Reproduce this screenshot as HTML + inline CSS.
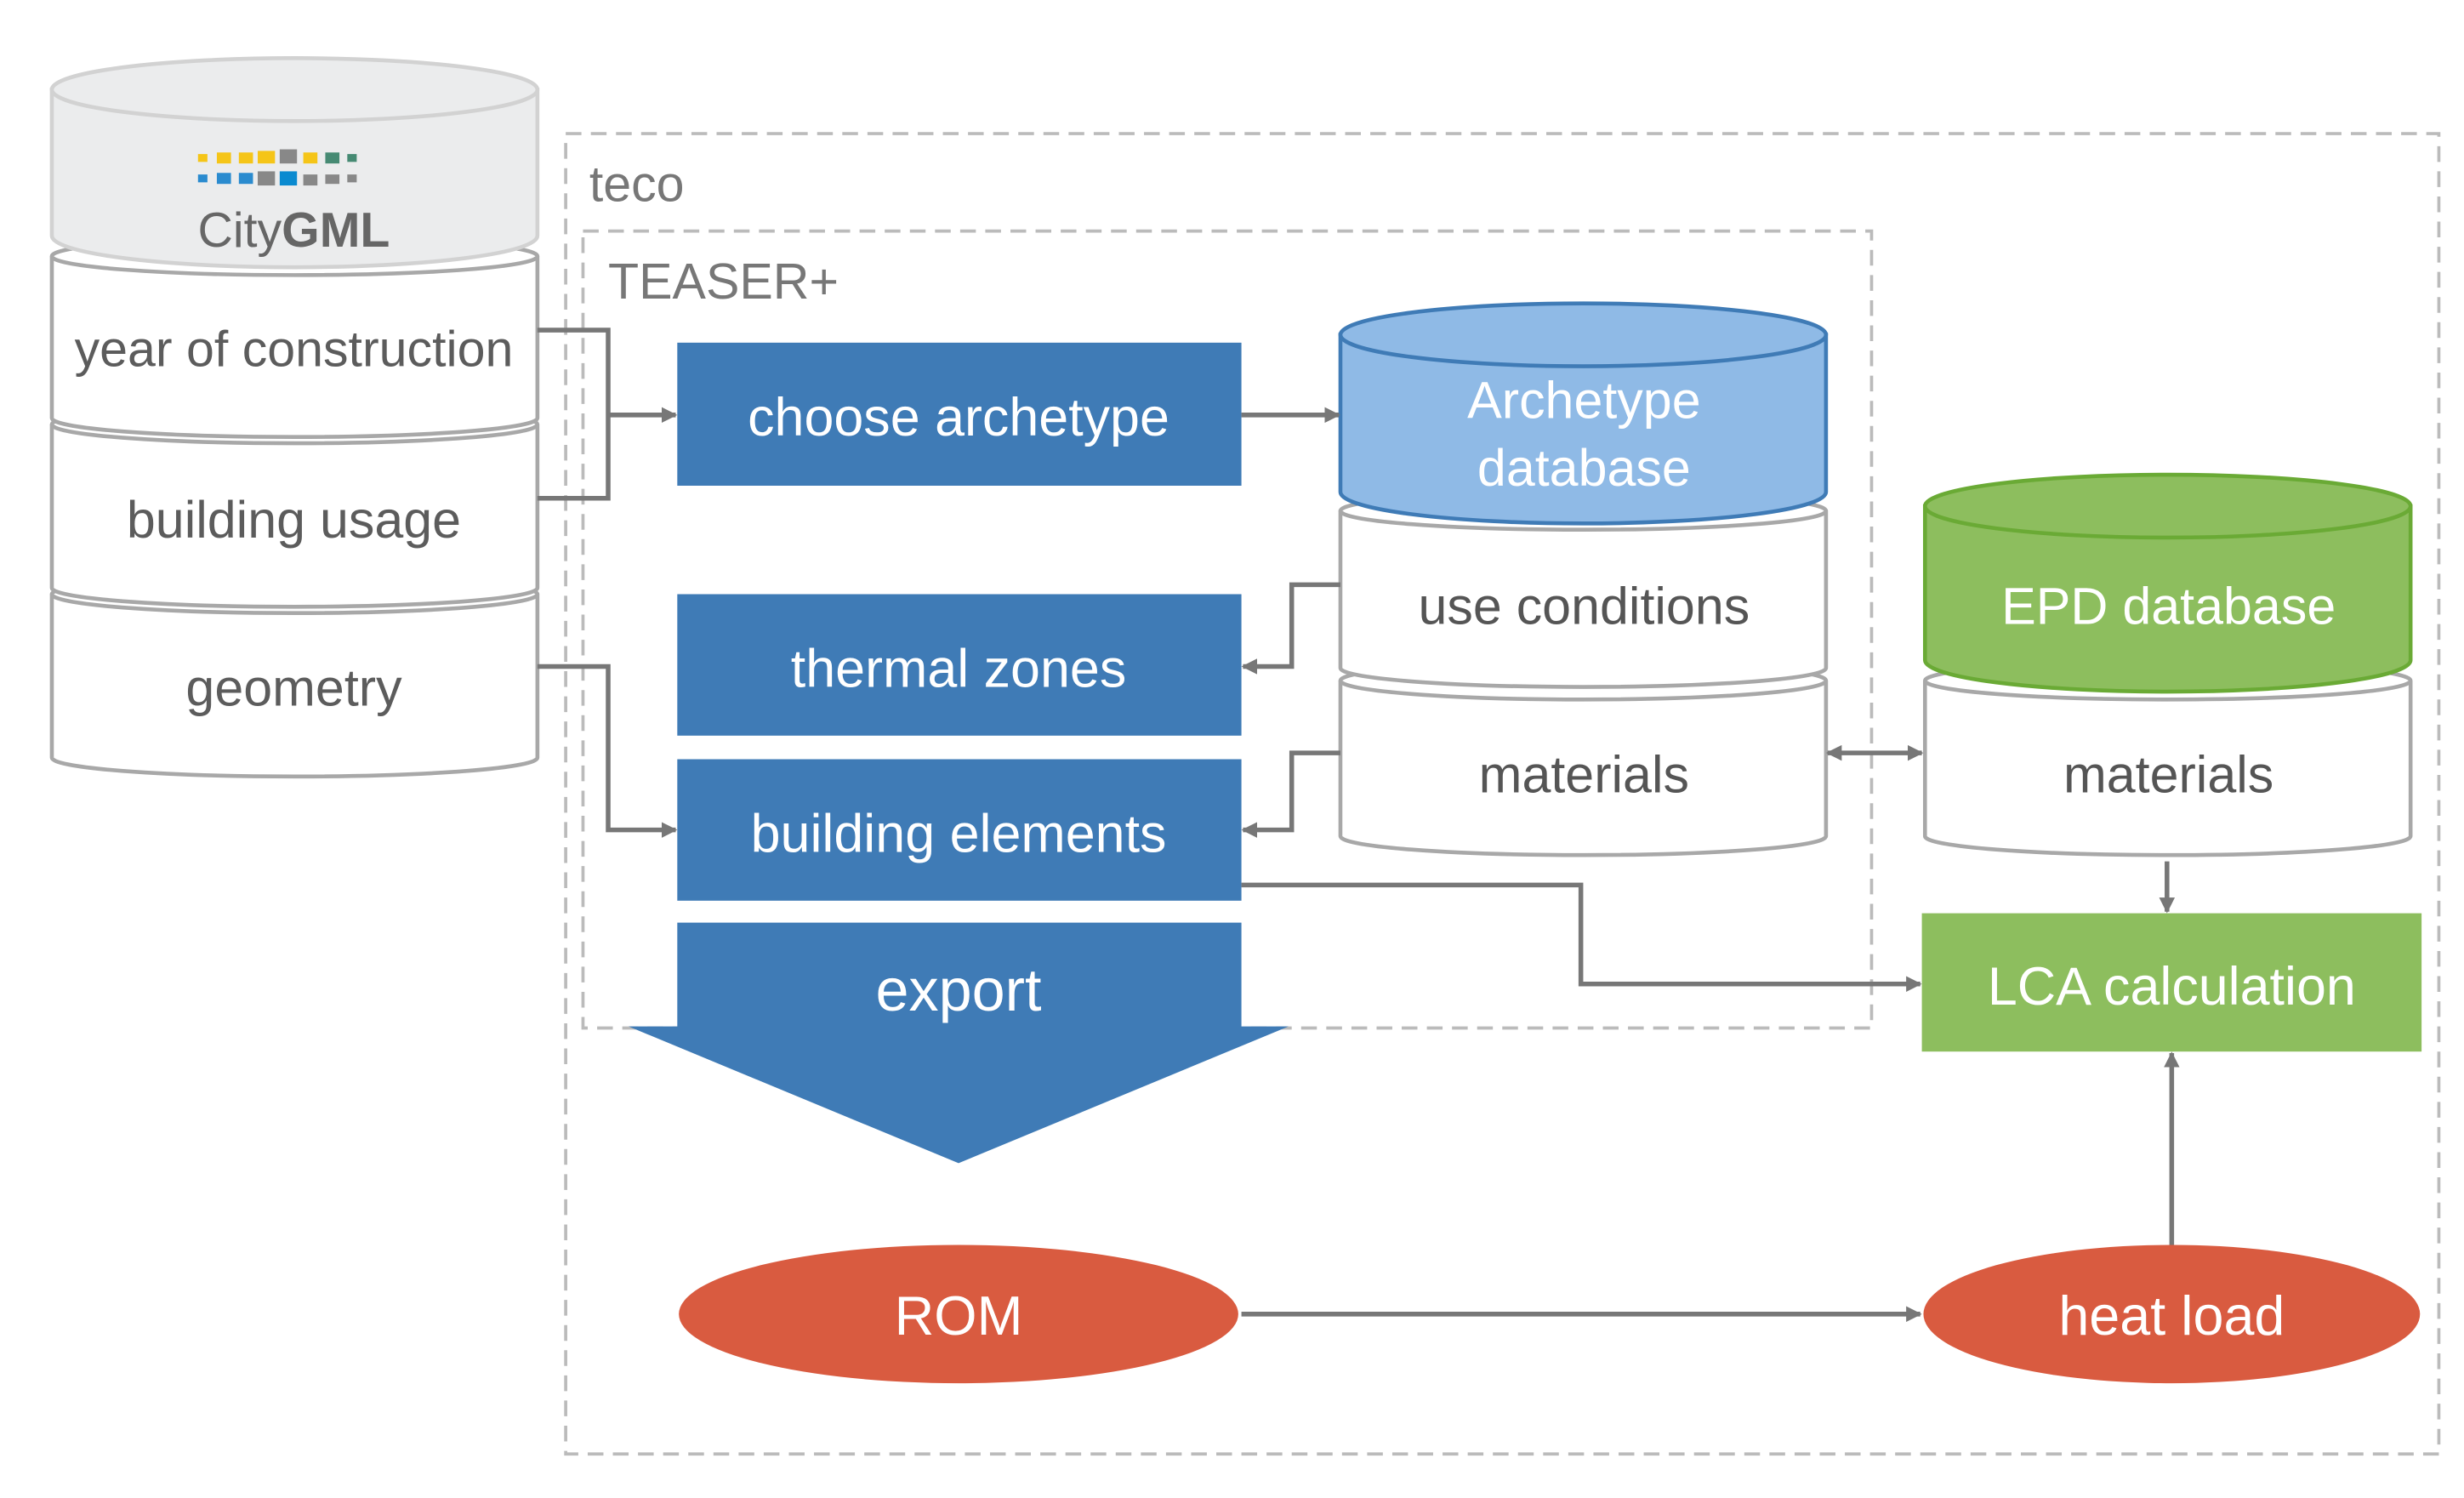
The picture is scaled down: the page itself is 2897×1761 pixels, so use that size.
<!DOCTYPE html>
<html><head><meta charset="utf-8"><style>
html,body{margin:0;padding:0;background:#fff;}
svg{display:block;}
text{font-family:"Liberation Sans",sans-serif;}
</style></head><body>
<svg width="2897" height="1761" viewBox="0 0 1568 953" preserveAspectRatio="none" xmlns="http://www.w3.org/2000/svg">
<defs>
<marker id="ah" markerWidth="10" markerHeight="10" refX="9" refY="5" orient="auto" markerUnits="userSpaceOnUse"><path d="M0,0 L10,5 L0,10 z" fill="#777"/></marker>
<marker id="ahs" markerWidth="10" markerHeight="10" refX="1" refY="5" orient="auto" markerUnits="userSpaceOnUse"><path d="M10,0 L0,5 L10,10 z" fill="#777"/></marker>
</defs>
<rect width="1568" height="953" fill="#fff"/>
<rect x="360" y="85" width="1192" height="840" fill="none" stroke="#bbb" stroke-width="2" stroke-dasharray="10,6"/>
<text x="375" y="128" font-size="32" fill="#777">teco</text>
<rect x="371" y="147" width="820" height="507" fill="none" stroke="#bbb" stroke-width="2" stroke-dasharray="10,6"/>
<text x="387" y="190" font-size="32" fill="#777">TEASER+</text>

<g stroke="#a8a8a8" stroke-width="2.5">
<path d="M33,378 A154.5,12 0 0 1 342,378 L342,482 A154.5,12 0 0 1 33,482 Z" fill="#fff"/>
<path d="M33,378 A154.5,12 0 0 0 342,378" fill="none"/>
<path d="M33,270 A154.5,12 0 0 1 342,270 L342,374 A154.5,12 0 0 1 33,374 Z" fill="#fff"/>
<path d="M33,270 A154.5,12 0 0 0 342,270" fill="none"/>
<path d="M33,163 A154.5,12 0 0 1 342,163 L342,266 A154.5,12 0 0 1 33,266 Z" fill="#fff"/>
<path d="M33,163 A154.5,12 0 0 0 342,163" fill="none"/>
</g>
<path d="M33,57 L33,150 A154.5,20 0 0 0 342,150 L342,57 Z" fill="#ebeced" stroke="#d2d2d2" stroke-width="2.5"/>
<ellipse cx="187.5" cy="57" rx="154.5" ry="20" fill="#ebeced" stroke="#d2d2d2" stroke-width="2.5"/>
<g>
<rect x="126" y="98" width="6" height="5" fill="#f5c518"/><rect x="138" y="97" width="9" height="7" fill="#f5c518"/><rect x="152" y="97" width="9" height="7" fill="#f5c518"/><rect x="164" y="96" width="11" height="8" fill="#f5c518"/><rect x="178" y="95" width="11" height="9" fill="#888"/><rect x="193" y="97" width="9" height="7" fill="#f5c518"/><rect x="207" y="97" width="9" height="7" fill="#468a73"/><rect x="221" y="98" width="6" height="5" fill="#468a73"/>
<rect x="126" y="111" width="6" height="5" fill="#2a8bcf"/><rect x="138" y="110" width="9" height="7" fill="#2a8bcf"/><rect x="152" y="110" width="9" height="7" fill="#2a8bcf"/><rect x="164" y="109" width="11" height="9" fill="#888"/><rect x="178" y="109" width="11" height="9" fill="#0a8ad0"/><rect x="193" y="111" width="9" height="7" fill="#888"/><rect x="207" y="111" width="9" height="6" fill="#888"/><rect x="221" y="111" width="6" height="5" fill="#888"/>
</g>
<text x="187" y="157" font-size="31" fill="#666" text-anchor="middle">City<tspan font-weight="bold">GML</tspan></text>
<g font-size="32" fill="#5c5c5c" text-anchor="middle">
<text x="187" y="233">year of construction</text>
<text x="187" y="342" font-size="33">building usage</text>
<text x="187" y="449" font-size="33">geometry</text>
</g>

<g stroke="#a8a8a8" stroke-width="2.5">
<path d="M853,433 A154.5,12 0 0 1 1162,433 L1162,532 A154.5,12 0 0 1 853,532 Z" fill="#fff"/>
<path d="M853,433 A154.5,12 0 0 0 1162,433" fill="none"/>
<path d="M853,325 A154.5,12 0 0 1 1162,325 L1162,425 A154.5,12 0 0 1 853,425 Z" fill="#fff"/>
<path d="M853,325 A154.5,12 0 0 0 1162,325" fill="none"/>
</g>
<path d="M853,213 L853,313 A154.5,20 0 0 0 1162,313 L1162,213 Z" fill="#8fbae6" stroke="#3f7bb6" stroke-width="2.5"/>
<ellipse cx="1007.5" cy="213" rx="154.5" ry="20" fill="#8fbae6" stroke="#3f7bb6" stroke-width="2.5"/>
<text x="1008" y="266" font-size="33" fill="#fff" text-anchor="middle">Archetype</text>
<text x="1008" y="309" font-size="33" fill="#fff" text-anchor="middle">database</text>
<text x="1008" y="397" font-size="33" fill="#555" text-anchor="middle">use conditions</text>
<text x="1008" y="504" font-size="33" fill="#555" text-anchor="middle">materials</text>

<g stroke="#a8a8a8" stroke-width="2.5">
<path d="M1225,433 A154.5,12 0 0 1 1534,433 L1534,532 A154.5,12 0 0 1 1225,532 Z" fill="#fff"/>
<path d="M1225,433 A154.5,12 0 0 0 1534,433" fill="none"/>
</g>
<path d="M1225,322 L1225,420 A154.5,20 0 0 0 1534,420 L1534,322 Z" fill="#8dbe5e" stroke="#6aaa35" stroke-width="2.5"/>
<ellipse cx="1379.5" cy="322" rx="154.5" ry="20" fill="#8dbe5e" stroke="#6aaa35" stroke-width="2.5"/>
<text x="1380" y="397" font-size="33" fill="#fff" text-anchor="middle">EPD database</text>
<text x="1380" y="504" font-size="33" fill="#555" text-anchor="middle">materials</text>

<g fill="#3f7bb6">
<rect x="431" y="218" width="359" height="91"/>
<rect x="431" y="378" width="359" height="90"/>
<rect x="431" y="483" width="359" height="90"/>
<path d="M431,587 L790,587 L790,653 L820,653 L610,740 L400,653 L431,653 Z"/>
</g>
<g font-size="34" fill="#fff" text-anchor="middle">
<text x="610" y="277">choose archetype</text>
<text x="610" y="437">thermal zones</text>
<text x="610" y="542">building elements</text>
<text x="610" y="643" font-size="38">export</text>
</g>

<rect x="1223" y="581" width="318" height="88" fill="#8dbe5e"/>
<text x="1382" y="639" font-size="34" fill="#fff" text-anchor="middle">LCA calculation</text>

<ellipse cx="610" cy="836" rx="178" ry="44" fill="#d95b40"/>
<text x="610" y="849" font-size="35" fill="#fff" text-anchor="middle">ROM</text>
<ellipse cx="1382" cy="836" rx="158" ry="44" fill="#d95b40"/>
<text x="1382" y="849" font-size="35" fill="#fff" text-anchor="middle">heat load</text>

<g stroke="#777" stroke-width="3" fill="none">
<path d="M342,210 L387,210 L387,317 L342,317"/>
<path d="M387,264 L430,264" marker-end="url(#ah)"/>
<path d="M342,424 L387,424 L387,528 L430,528" marker-end="url(#ah)"/>
<path d="M790,264 L852,264" marker-end="url(#ah)"/>
<path d="M853,372 L822,372 L822,424 L791,424" marker-end="url(#ah)"/>
<path d="M853,479 L822,479 L822,528 L791,528" marker-end="url(#ah)"/>
<path d="M1163,479 L1223,479" marker-start="url(#ahs)" marker-end="url(#ah)"/>
<path d="M790,563 L1006,563 L1006,626 L1222,626" marker-end="url(#ah)"/>
<path d="M1379,548 L1379,580" marker-end="url(#ah)"/>
<path d="M1382,792 L1382,670" marker-end="url(#ah)"/>
<path d="M790,836 L1222,836" marker-end="url(#ah)"/>
</g>
</svg>
</body></html>
